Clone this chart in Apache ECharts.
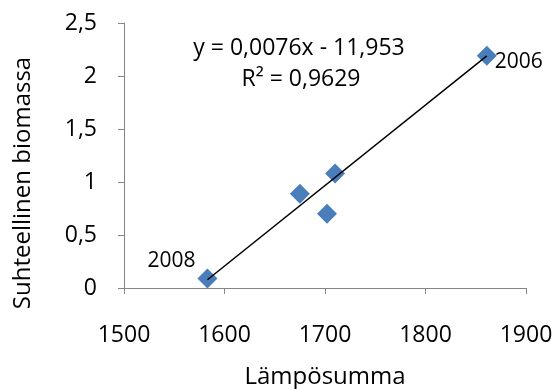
<!DOCTYPE html>
<html>
<head>
<meta charset="utf-8">
<script src="https://cdn.jsdelivr.net/npm/echarts@6/dist/echarts.min.js"></script>
<style>
    html, body { margin: 0; padding: 0; background: #fff; }
    #chart { width: 558px; height: 389px; }
</style>
</head>
<body>
<div id="chart"></div>
<script>
// Lämpösumma vs suhteellinen biomassa
let heat_sum = [1583, 1675, 1702, 1710, 1861];
let biomass = [0.09, 0.89, 0.70, 1.08, 2.19];
let year_labels = ['2008', '', '', '', '2006'];

// trendline end points (y = 0,0076x - 11,953)
let trend_x = [1583, 1861];
let trend_y = [0.078, 2.19];

let x_ticks = [1500, 1600, 1700, 1800, 1900];
let y_ticks = [0, 0.5, 1, 1.5, 2, 2.5];

let chart = echarts.init(document.getElementById('chart'));
let fontFamily = '"Open Sans", sans-serif';

let scatter_data = heat_sum.map((x, i) => [x, biomass[i]]);
let trend_data = trend_x.map((x, i) => [x, trend_y[i]]);

let option = {
    animation: false,
    grid: {
        left: 124,
        right: 32,
        top: 23,
        bottom: 101,
        outerBoundsMode: 'none'
    },
    xAxis: {
        type: 'value',
        min: x_ticks[0],
        max: x_ticks[x_ticks.length - 1],
        interval: 100,
        name: 'Lämpösumma',
        nameLocation: 'middle',
        nameGap: 77,
        nameTextStyle: { color: '#000', fontSize: 24, fontFamily: fontFamily },
        axisLine: { lineStyle: { color: '#868686', width: 1 } },
        axisTick: { show: true, length: 6, lineStyle: { color: '#868686' } },
        axisLabel: {
            color: '#000', fontSize: 23, fontFamily: fontFamily, margin: 36,
            formatter: v => String(v)
        },
        splitLine: { show: false }
    },
    yAxis: {
        type: 'value',
        min: y_ticks[0],
        max: y_ticks[y_ticks.length - 1],
        interval: 0.5,
        axisLine: { show: true, lineStyle: { color: '#868686', width: 1 } },
        axisTick: { show: true, length: 6, lineStyle: { color: '#868686' } },
        axisLabel: {
            color: '#000', fontSize: 23, fontFamily: fontFamily, margin: 27,
            formatter: v => String(v).replace('.', ',')
        },
        splitLine: { show: false }
    },
    graphic: [
        {
            type: 'text',
            x: 23, y: 183,
            rotation: Math.PI / 2,
            style: {
                text: 'Suhteellinen biomassa',
                font: '24px "Open Sans", sans-serif',
                fill: '#000',
                textAlign: 'center',
                textVerticalAlign: 'middle'
            }
        },
        {
            type: 'text',
            x: 299, y: 48,
            style: {
                text: 'y = 0,0076x - 11,953',
                font: '23px "Open Sans", sans-serif',
                fill: '#000',
                textAlign: 'center',
                textVerticalAlign: 'middle'
            }
        },
        {
            type: 'text',
            x: 301, y: 79,
            style: {
                text: 'R² = 0,9629',
                font: '23px "Open Sans", sans-serif',
                fill: '#000',
                textAlign: 'center',
                textVerticalAlign: 'middle'
            }
        }
    ],
    series: [
        {
            name: 'trend',
            type: 'line',
            data: trend_data,
            symbol: 'none',
            lineStyle: { color: '#000', width: 1.5 },
            z: 3
        },
        {
            name: 'biomassa',
            type: 'scatter',
            data: scatter_data,
            symbol: 'diamond',
            symbolSize: [20, 20],
            itemStyle: { color: '#4A7EBB', opacity: 1 },
            label: {
                show: true,
                position: 'top',
                formatter: p => year_labels[p.dataIndex],
                color: '#000',
                textBorderWidth: 0,
                fontSize: 21,
                fontFamily: fontFamily
            },
            labelLayout: function (params) {
                if (params.dataIndex === 0) {
                    return { dx: -36, dy: 8 };
                }
                if (params.dataIndex === 4) {
                    return { dx: 32, dy: 32 };
                }
                return {};
            },
            z: 2
        }
    ]
};

chart.setOption(option);
</script>
</body>
</html>
